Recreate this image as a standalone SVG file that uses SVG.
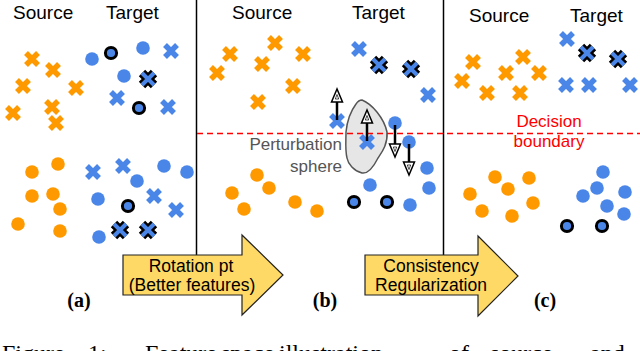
<svg xmlns="http://www.w3.org/2000/svg" xmlns:xlink="http://www.w3.org/1999/xlink" width="640" height="351" viewBox="0 0 640 351">
<style>
.hd{font-family:"Liberation Sans",Arial,sans-serif;font-size:19px;fill:#000}
.ar{font-family:"Liberation Sans",Arial,sans-serif;font-size:17.5px;fill:#000;text-anchor:middle}
.lb{font-family:"Liberation Serif","Times New Roman",serif;font-size:20px;font-weight:bold;fill:#000;text-anchor:middle}
.cap{font-family:"Liberation Serif","Times New Roman",serif;font-size:24px;fill:#000}
.red{font-family:"Liberation Sans",Arial,sans-serif;font-size:17px;fill:#FF0000;text-anchor:middle}
.gry{font-family:"Liberation Sans",Arial,sans-serif;font-size:17px;fill:#555;text-anchor:end}
.div{stroke:#000;stroke-width:1.5;fill:none}
.bigarrow{fill:#FFD966;stroke:#222;stroke-width:1.2}
.shaft{stroke:#000;stroke-width:2.5}
.head{fill:#fff;stroke:#000;stroke-width:1.5;stroke-linejoin:miter}
.inner{fill:none;stroke:#000;stroke-width:0.7}
</style>
<defs>
<path id="xo" d="M-6,-6L6,6M6,-6L-6,6" stroke="#FF9900" stroke-width="5.5"/>
<path id="xb" d="M-6,-6L6,6M6,-6L-6,6" stroke="#4A86E8" stroke-width="5.5"/>
<g id="xk"><path d="M-6,-6L6,6M6,-6L-6,6" stroke="#000" stroke-width="9"/><path d="M-6,-6L6,6M6,-6L-6,6" stroke="#4A86E8" stroke-width="4"/></g>
<circle id="co" r="6.8" fill="#FF9900"/>
<circle id="cb" r="6.8" fill="#4A86E8"/>
<circle id="ck" r="5.6" fill="#4A86E8" stroke="#000" stroke-width="3"/>
</defs>
<rect width="640" height="351" fill="#fff"/>

<g id="dividers">
<line class="div" x1="196.5" y1="0" x2="196.5" y2="255"/>
<line class="div" x1="443.5" y1="0" x2="443.5" y2="255"/>
</g>

<g id="panel-a">
<text class="hd" x="13" y="19">Source</text>
<text class="hd" x="106" y="19">Target</text>
<use href="#xo" x="32" y="59"/><use href="#xo" x="53" y="70"/><use href="#xo" x="23" y="86"/><use href="#xo" x="76" y="88"/><use href="#xo" x="13" y="113"/><use href="#xo" x="52" y="107"/><use href="#xo" x="56" y="123"/>
<use href="#cb" x="92" y="59"/><use href="#ck" x="111" y="53"/><use href="#cb" x="143" y="48"/><use href="#xb" x="171" y="51"/><use href="#cb" x="124" y="76"/><use href="#xk" x="148" y="79"/><use href="#xb" x="117" y="98"/><use href="#ck" x="139" y="108"/><use href="#xb" x="168" y="107"/>
<use href="#co" x="32" y="172"/><use href="#co" x="58" y="164"/><use href="#co" x="32" y="196"/><use href="#co" x="53" y="194"/><use href="#co" x="60" y="209"/><use href="#co" x="18" y="224"/><use href="#co" x="60" y="231"/>
<use href="#xb" x="93" y="172"/><use href="#xb" x="123" y="166"/><use href="#xb" x="154" y="196"/><use href="#xb" x="176" y="210"/>
<use href="#cb" x="137" y="181"/><use href="#cb" x="164" y="166"/><use href="#cb" x="187" y="172"/><use href="#cb" x="98" y="199"/><use href="#cb" x="99" y="237"/>
<use href="#ck" x="128" y="206"/><use href="#xk" x="120" y="230"/><use href="#xk" x="148" y="230"/>
</g>

<g id="panel-b">
<text class="hd" x="232" y="19">Source</text>
<text class="hd" x="352" y="19">Target</text>
<use href="#xo" x="217" y="73"/><use href="#xo" x="230" y="54"/><use href="#xo" x="275" y="43"/><use href="#xo" x="262" y="64"/><use href="#xo" x="303" y="54"/><use href="#xo" x="293" y="86"/><use href="#xo" x="258" y="102"/>
<use href="#xb" x="359" y="49"/><use href="#xk" x="379" y="65"/><use href="#xk" x="411" y="69"/><use href="#xb" x="428" y="95"/>
<path id="perturbation-sphere" d="M362,100 C372,104 384,118 387,132 C388,144 382,152 378,158 C374,166 368,174 362,173 C354,171 348,164 347,158 C345,150 346,140 346,132 C347,122 350,112 356,104 C358,101 360,100 362,100 Z" fill="#E6E6E6" stroke="#555" stroke-width="1.5"/>
<text class="gry" x="342" y="150">Perturbation</text>
<text class="gry" x="342" y="172">sphere</text>
<use href="#xb" x="337" y="121"/><use href="#xb" x="367" y="142"/>
<use href="#cb" x="395" y="123"/><use href="#cb" x="409" y="142"/><use href="#cb" x="427" y="168"/><use href="#cb" x="429" y="188"/><use href="#cb" x="370" y="185"/><use href="#cb" x="410" y="205"/>
<use href="#ck" x="354" y="202"/><use href="#ck" x="387" y="202"/>
<use href="#co" x="257" y="175"/><use href="#co" x="269" y="188"/><use href="#co" x="232" y="193"/><use href="#co" x="244" y="209"/><use href="#co" x="295" y="202"/><use href="#co" x="317" y="211"/>
</g>

<g id="panel-c">
<text class="hd" x="469" y="22">Source</text>
<text class="hd" x="570" y="22">Target</text>
<use href="#xo" x="462" y="81"/><use href="#xo" x="473" y="62"/><use href="#xo" x="487" y="93"/><use href="#xo" x="506" y="73"/><use href="#xo" x="523" y="57"/><use href="#xo" x="539" y="73"/><use href="#xo" x="520" y="93"/>
<use href="#xb" x="567" y="39"/><use href="#xb" x="566" y="85"/><use href="#xb" x="589" y="85"/><use href="#xb" x="630" y="85"/>
<use href="#xk" x="587" y="53"/><use href="#xk" x="618" y="59"/>
<text class="red" x="549" y="127">Decision</text>
<text class="red" x="549" y="147">boundary</text>
<use href="#co" x="495" y="177"/><use href="#co" x="529" y="178"/><use href="#co" x="508" y="189"/><use href="#co" x="470" y="194"/><use href="#co" x="533" y="203"/><use href="#co" x="482" y="211"/><use href="#co" x="512" y="216"/>
<use href="#cb" x="603" y="172"/><use href="#cb" x="597" y="188"/><use href="#cb" x="583" y="196"/><use href="#cb" x="625" y="192"/><use href="#cb" x="607" y="206"/><use href="#cb" x="624" y="214"/>
<use href="#ck" x="567" y="226"/><use href="#ck" x="602" y="226"/>
</g>

<g id="decision-boundary">
<line x1="197" y1="133.5" x2="640" y2="133.5" stroke="#FF0000" stroke-width="1.5" stroke-dasharray="6,4"/>
</g>

<g id="connectors">
<line class="shaft" x1="337" y1="101" x2="337" y2="120"/>
<polygon class="head" points="337,89 331.5,102 342.5,102"/>
<path class="inner" d="M337,94.5 L335.3,99 L338.7,99 Z"/>
<line class="shaft" x1="367" y1="122" x2="367" y2="141"/>
<polygon class="head" points="367,110 361.5,123 372.5,123"/>
<path class="inner" d="M367,115.5 L365.3,120 L368.7,120 Z"/>
<line class="shaft" x1="395" y1="125" x2="395" y2="145"/>
<polygon class="head" points="395,157 389.5,144 400.5,144"/>
<path class="inner" d="M395,151.5 L393.3,147 L396.7,147 Z"/>
<line class="shaft" x1="409" y1="144" x2="409" y2="163"/>
<polygon class="head" points="409,175 403.5,162 414.5,162"/>
<path class="inner" d="M409,169.5 L407.3,165 L410.7,165 Z"/>
</g>

<g id="arrow-rotation">
<polygon class="bigarrow" points="123,255 242,255 242,235 283,275 242,315 242,295 123,295"/>
<text class="ar" x="191" y="272">Rotation pt</text>
<text class="ar" x="192" y="291">(Better features)</text>
</g>

<g id="arrow-consistency">
<polygon class="bigarrow" points="365,255 478,255 478,236 518,276 478,316 478,295 365,295"/>
<text class="ar" x="431" y="272">Consistency</text>
<text class="ar" x="431" y="291">Regularization</text>
</g>

<g id="labels">
<text class="lb" x="79" y="307">(a)</text>
<text class="lb" x="325" y="307">(b)</text>
<text class="lb" x="545" y="307">(c)</text>
</g>

<g id="caption">
<text class="cap" y="361"><tspan x="2">Figure</tspan><tspan x="88">1:</tspan><tspan x="145">Feature</tspan><tspan x="221">space</tspan><tspan x="279">illustration</tspan><tspan x="449">of</tspan><tspan x="490">source</tspan><tspan x="590">and</tspan></text>
</g>
</svg>
